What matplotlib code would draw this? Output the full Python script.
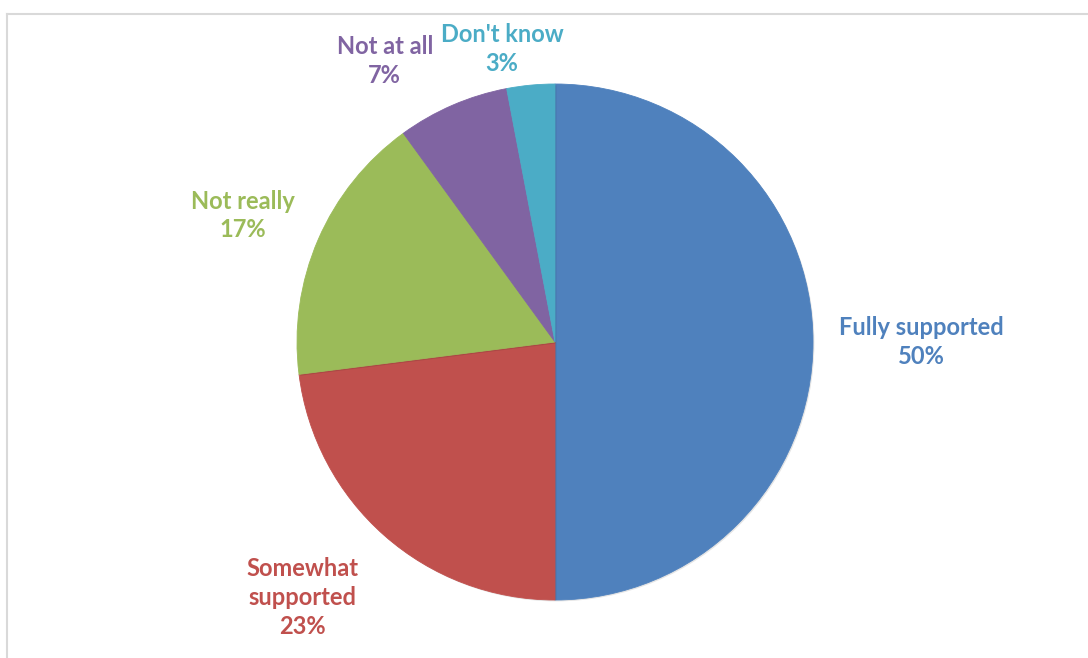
import matplotlib
matplotlib.use("Agg")
import matplotlib.pyplot as plt
import matplotlib.patheffects as pe
from matplotlib.lines import Line2D

# survey answers, clockwise from 12 o'clock
categories = ["Fully supported", "Somewhat\nsupported", "Not really", "Not at all", "Don't know"]
shares = [50, 23, 17, 7, 3]
colors = ["#4F81BD", "#C0504D", "#9BBB59", "#8064A2", "#4BACC6"]

# label centres, in units of the pie radius
label_pos = [(1.42, 0.0), (-0.98, -0.99), (-1.21, 0.49), (-0.66, 1.09), (-0.205, 1.135)]

plt.rcParams["font.family"] = ["Lato", "DejaVu Sans"]

fig = plt.figure(figsize=(10.88, 6.58), dpi=100)
W, H = 1088, 658
cx, cy, R = 555, 342, 258
ax = fig.add_axes([(cx - R) / W, (H - cy - R) / H, 2 * R / W, 2 * R / H])

wedges, _ = ax.pie(shares, colors=colors, startangle=90, counterclock=False,
                   radius=1.0, wedgeprops=dict(linewidth=0.6))
for w, c in zip(wedges, colors):
    w.set_edgecolor(c)
    w.set_path_effects([pe.SimplePatchShadow(offset=(1, -1), alpha=0.1, shadow_rgbFace="black"),
                        pe.Normal()])
ax.set_xlim(-1, 1)
ax.set_ylim(-1, 1)
ax.axis("off")

for name, val, col, (x, y) in zip(categories, shares, colors, label_pos):
    ax.text(x, y, f"{name}\n{val}%", color=col, fontsize=17, fontweight="bold",
            ha="center", va="center", linespacing=1.3, clip_on=False)

# chart area border (top and left edges visible)
border = "#D9D9D9"
fig.add_artist(Line2D([7 / W, 1.0], [1 - 14 / H, 1 - 14 / H], color=border, lw=1.5))
fig.add_artist(Line2D([7 / W, 7 / W], [0.0, 1 - 14 / H], color=border, lw=1.5))

fig.savefig("out.png", dpi=100)
